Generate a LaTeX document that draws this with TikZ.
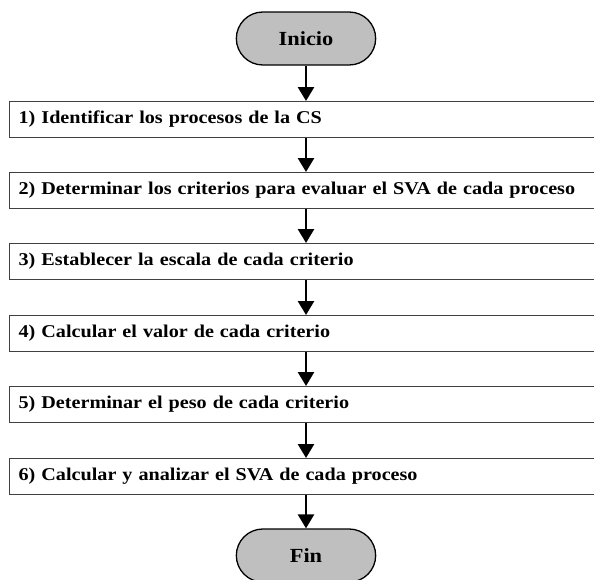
\documentclass[tikz,border=0pt]{standalone}
\usepackage{fontspec}
\setmainfont{Liberation Serif}[FakeStretch=1.12]
\usetikzlibrary{arrows.meta,shapes.misc}

\begin{document}
\begin{tikzpicture}[x=1pt,y=-1pt]
\tikzstyle{every node}=[font=\bfseries]
\tikzstyle{terminal}=[rounded rectangle,draw=black,line width=1.3pt,
  fill=black!25,minimum width=146pt,minimum height=53pt,font=\fontsize{20}{24}\selectfont\bfseries]
\tikzstyle{paso}=[rectangle,draw=black!75,line width=1.3pt,fill=white,anchor=north west,
  minimum height=35.5pt,text width=573pt,inner xsep=9pt,align=left,
  font=\fontsize{18}{21}\selectfont\bfseries]
\tikzstyle{flecha}=[line width=2.6pt,-{Triangle[length=14pt,width=16pt]}]

% Fix the page to the size of the reference
\useasboundingbox (0,0) rectangle (594,579);
\clip (0,0) rectangle (594,579);

%
% Start and end of the procedure
%
\node[terminal] (inicio) at (306,38.5) {Inicio};
\node[terminal] (fin) at (306,555.5) {Fin};

%
% The six steps
%
\node[paso] (p1) at (9,101) {1) Identificar los procesos de la CS};
\node[paso] (p2) at (9,172) {2) Determinar los criterios para evaluar el SVA de cada proceso};
\node[paso] (p3) at (9,243) {3) Establecer la escala de cada criterio};
\node[paso] (p4) at (9,315) {4) Calcular el valor de cada criterio};
\node[paso] (p5) at (9,386) {5) Determinar el peso de cada criterio};
\node[paso] (p6) at (9,458) {6) Calcular y analizar el SVA de cada proceso};

%
% Arrows down the flow
%
\draw[flecha] (inicio.south) -- (inicio.south |- p1.north);
\foreach \a/\b in {p1/p2,p2/p3,p3/p4,p4/p5,p5/p6}
  \draw[flecha] (inicio.south |- \a.south) -- (inicio.south |- \b.north);
\draw[flecha] (inicio.south |- p6.south) -- (fin.north);

\end{tikzpicture}
\end{document}
